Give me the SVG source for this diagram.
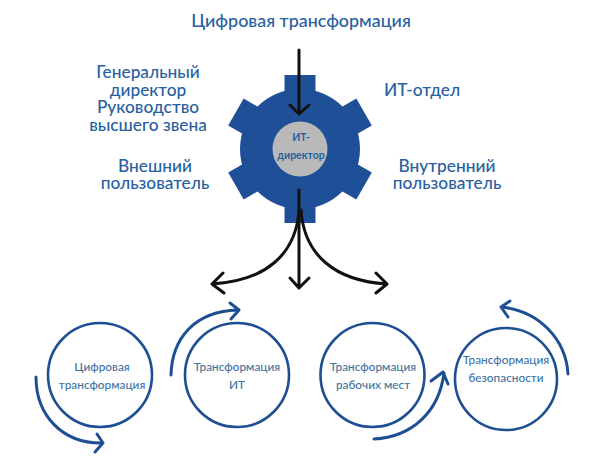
<svg xmlns="http://www.w3.org/2000/svg" width="600" height="458" viewBox="0 0 600 458">
<style>
text{font-family:"Lato","Open Sans","Liberation Sans",sans-serif;fill:#27609f;text-anchor:middle}
.l{font-size:17.3px;font-weight:500}
.s{font-size:11.8px;font-weight:500;fill:#3f739f}
.c{fill:#fff;stroke:#1f4f93;stroke-width:2.6}
.a{fill:none;stroke:#1f4f93;stroke-width:3;stroke-linecap:round;stroke-linejoin:round}
.k{fill:none;stroke:#111;stroke-width:3;stroke-linecap:round;stroke-linejoin:round}
</style>
<rect width="600" height="458" fill="#fff"/>
<g id="title"><text class="l" style="font-size:17.900px" x="301" y="27">Цифровая трансформация</text></g>
<g id="gen-director"><text class="l" x="148" y="78">Генеральный</text><text class="l" x="148" y="96">директор</text><text class="l" x="148" y="113">Руководство</text><text class="l" x="148" y="131">высшего звена</text></g>
<g id="it-dept"><text class="l" x="422" y="96">ИТ-отдел</text></g>
<g id="ext-user"><text class="l" x="155" y="172">Внешний</text><text class="l" x="155" y="189">пользователь</text></g>
<g id="int-user"><text class="l" x="447" y="172">Внутренний</text><text class="l" x="447" y="189">пользователь</text></g>
<g id="gear">
<g fill="#1f4f97">
<circle cx="300" cy="149" r="60"/>
<rect id="t0" x="284.500" y="75" width="31" height="148"/>
<rect x="284.500" y="75" width="31" height="148" transform="rotate(60 300 149)"/>
<rect x="284.500" y="75" width="31" height="148" transform="rotate(120 300 149)"/>
</g>
<circle cx="300" cy="149" r="27.500" fill="#b9b9b9"/>
<text x="301" y="141" style="font-size:10.500px;font-weight:700" fill="#2f6ea8">ИТ-</text>
<text x="301" y="159" style="font-size:10.500px;font-weight:700" fill="#2f6ea8">директор</text>
</g>
<g id="connectors">
<path class="k" d="M299 50V114M290 105L299 114L309 105"/>
<path class="k" d="M299 190V288M290 278L299 288L309 278"/>
<path class="k" d="M299 210C296 255 265 281 212 284M223 273L212 284L224 293"/>
<path class="k" d="M301 210C304 255 335 281 387 284M376 273L387 284L376 293"/>
<path class="a" d="M36 377C36 415 62 444 103 443M97 434L103 443L95 452"/>
<path class="a" d="M171 375C172 338 195 311 238 310M230 303L239 310L231 319"/>
<path class="a" d="M374 439C412 437 439 412 444 373M431 381L443 372L448 384"/>
<path class="a" d="M568 374C566 340 540 311 501 307M510 301L501 307L508 317"/>
</g>
<g id="n1"><circle class="c" cx="100" cy="375" r="52"/><text class="s" x="102" y="371">Цифровая</text><text class="s" x="102" y="389">трансформация</text></g>
<g id="n2"><circle class="c" cx="237" cy="375" r="52"/><text class="s" x="237" y="371">Трансформация</text><text class="s" x="237" y="389">ИТ</text></g>
<g id="n3"><circle class="c" cx="372.500" cy="375" r="52"/><text class="s" x="373" y="371">Трансформация</text><text class="s" x="373" y="389">рабочих мест</text></g>
<g id="n4"><circle class="c" cx="506" cy="379" r="51"/><text class="s" x="506" y="364">Трансформация</text><text class="s" x="506" y="382">безопасности</text></g>
</svg>
